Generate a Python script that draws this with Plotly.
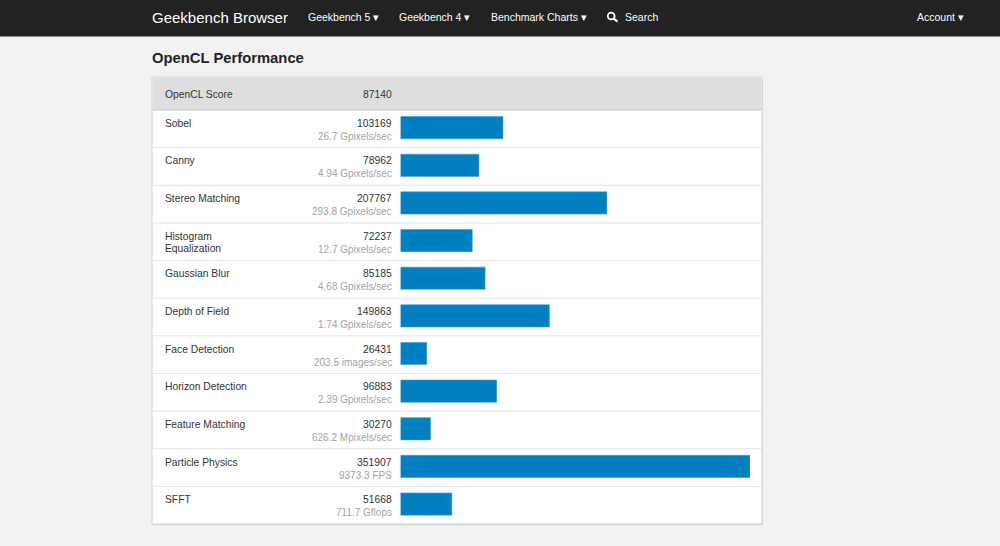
import plotly.graph_objects as go

# benchmark rows
names = ["Sobel", "Canny", "Stereo Matching", "Histogram<br>Equalization",
         "Gaussian Blur", "Depth of Field", "Face Detection", "Horizon Detection",
         "Feature Matching", "Particle Physics", "SFFT"]
scores = [103169, 78962, 207767, 72237, 85185, 149863, 26431, 96883,
          30270, 351907, 51668]
rates = ["26.7 Gpixels/sec", "4.94 Gpixels/sec", "293.8 Gpixels/sec",
         "12.7 Gpixels/sec", "4.68 Gpixels/sec", "1.74 Gpixels/sec",
         "203.5 images/sec", "2.39 Gpixels/sec", "626.2 Mpixels/sec",
         "9373.3 FPS", "711.7 Gflops"]

total_label = "OpenCL Score"
total_score = 87140

nav_items = ["Geekbench 5 ▾", "Geekbench 4 ▾", "Benchmark Charts ▾"]

W, H = 1000, 546
FONT = "Liberation Sans, Arial, Helvetica, sans-serif"
PAD = 2  # plotly pads annotation text a little, pull it back


def px(x):
    return x / W


def py(y):
    return 1 - y / H


card_l, card_r, card_t, card_b = 152, 762, 77, 524
head_b = 110
row_h = (card_b - head_b) / len(names)

fig = go.Figure()

fig.add_trace(go.Bar(
    y=names,
    x=scores,
    orientation="h",
    width=0.59,
    offset=-0.295 - 0.03,
    marker=dict(color="#0180c1", line=dict(width=0.6, color="#3d9bd4")),
    hoverinfo="skip",
))

shapes = []
# navbar
shapes.append(dict(type="rect", xref="paper", yref="paper", x0=0, x1=1,
                   y0=py(36.5), y1=1, fillcolor="#222222", line_width=0, layer="below"))
# card shadow + card
shapes.append(dict(type="rect", xref="paper", yref="paper", x0=px(card_l + 0.5), x1=px(card_r + 0.8),
                   y0=py(card_b + 1.2), y1=py(card_t + 1), fillcolor="#d4d4d4", line_width=0, layer="below"))
shapes.append(dict(type="rect", xref="paper", yref="paper", x0=px(card_l), x1=px(card_r),
                   y0=py(card_b), y1=py(card_t), fillcolor="#ffffff",
                   line=dict(color="#d2d2d2", width=1), layer="below"))
# header band
shapes.append(dict(type="rect", xref="paper", yref="paper", x0=px(card_l + 0.5), x1=px(card_r - 0.5),
                   y0=py(head_b), y1=py(card_t + 0.5), fillcolor="#dedede", line_width=0, layer="below"))
shapes.append(dict(type="line", xref="paper", yref="paper", x0=px(card_l + 0.5), x1=px(card_r - 0.5),
                   y0=py(head_b), y1=py(head_b), line=dict(color="#c6c6c6", width=1), layer="below"))
# row separators
for k in range(1, len(names)):
    yy = head_b + k * row_h
    shapes.append(dict(type="line", xref="paper", yref="paper", x0=px(card_l + 0.5), x1=px(card_r - 0.5),
                       y0=py(yy), y1=py(yy), line=dict(color="#e4e4e4", width=1), layer="below"))
# search icon
shapes.append(dict(type="circle", xref="paper", yref="paper", x0=px(607.8), x1=px(614.6),
                   y0=py(19.4), y1=py(12.6), line=dict(color="#ffffff", width=1.8)))
shapes.append(dict(type="line", xref="paper", yref="paper", x0=px(613.8), x1=px(617.6),
                   y0=py(18.6), y1=py(21.6), line=dict(color="#ffffff", width=2)))

ann = []


def text_left(text, x, y, size, color, yref="paper", yshift=0):
    ann.append(dict(text=text, x=px(x), y=y, xref="paper", yref=yref,
                    xanchor="left", yanchor="middle", xshift=-PAD, yshift=yshift,
                    showarrow=False, font=dict(family=FONT, size=size, color=color)))


def text_right(text, x, y, size, color, yref="paper", yshift=0):
    ann.append(dict(text=text, x=px(x), y=y, xref="paper", yref=yref,
                    xanchor="right", yanchor="middle", xshift=PAD, yshift=yshift,
                    showarrow=False, font=dict(family=FONT, size=size, color=color)))


# navbar texts
text_left("Geekbench Browser", 152, py(17), 15, "#ffffff")
for label, xpos in zip(nav_items, [308, 399, 490.5]):
    text_left(label, xpos, py(17), 10.5, "#ffffff")
text_left("Search", 625, py(17), 10.5, "#ffffff")
text_left("Account ▾", 916.5, py(17), 10.5, "#ffffff")

# page title
text_left("<b>OpenCL Performance</b>", 151.5, py(58), 14.8, "#222222")

# header row
text_left(total_label, 164.5, py(94), 10.3, "#333333")
text_right(str(total_score), 392, py(94), 10.3, "#333333")

# benchmark rows
for name, score, rate in zip(names, scores, rates):
    for i, line in enumerate(name.split("<br>")):
        text_left(line, 164.5, name, 10.3, "#333333", yref="y", yshift=5.5 - 12 * i)
    text_right(str(score), 392, name, 10.3, "#333333", yref="y", yshift=5.5)
    text_right(rate, 392, name, 10, "#a3a3a3", yref="y", yshift=-7.5)

fig.update_layout(
    width=W, height=H,
    margin=dict(l=0, r=0, t=0, b=0),
    paper_bgcolor="#f2f2f2",
    plot_bgcolor="rgba(0,0,0,0)",
    showlegend=False,
    shapes=shapes,
    annotations=ann,
    xaxis=dict(domain=[px(400.5), px(750)], range=[0, max(scores)],
               showgrid=False, zeroline=False, showticklabels=False, fixedrange=True),
    yaxis=dict(domain=[py(card_b), py(head_b)], type="category",
               range=[len(names) - 0.5, -0.5],
               showgrid=False, zeroline=False, showticklabels=False, fixedrange=True),
)

fig.write_html(
    "out.html",
    config={"displayModeBar": False},
    post_script="document.body.style.margin='0';document.body.style.overflow='hidden';",
)
